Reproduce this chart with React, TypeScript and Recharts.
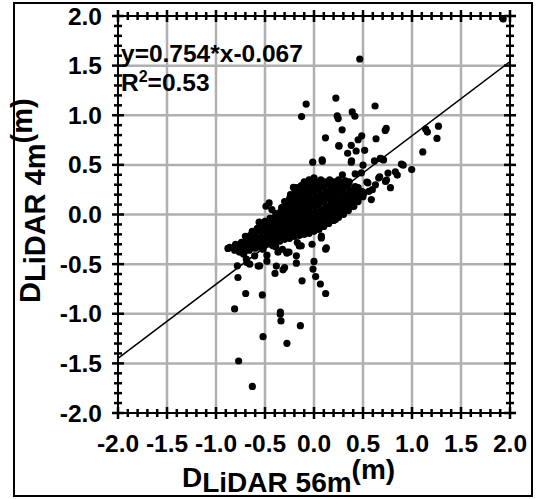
import React from 'react';
import { ScatterChart, Scatter, XAxis, YAxis, CartesianGrid, ReferenceLine } from 'recharts';

const W = 538;
const H = 499;
const PLOT_LEFT = 118;
const PLOT_RIGHT = 510;
const PLOT_TOP = 16;
const PLOT_BOTTOM = 413;
const FONT = '"Liberation Sans", Arial, Helvetica, sans-serif';
const MARGIN = { top: PLOT_TOP, right: W - PLOT_RIGHT, bottom: 0, left: 0 };

// axis ticks: labelled every 0.5, minor every 0.1
const allTicks = [
  -2, -1.9, -1.8, -1.7, -1.6, -1.5, -1.4, -1.3, -1.2, -1.1,
  -1, -0.9, -0.8, -0.7, -0.6, -0.5, -0.4, -0.3, -0.2, -0.1,
  0, 0.1, 0.2, 0.3, 0.4, 0.5, 0.6, 0.7, 0.8, 0.9,
  1, 1.1, 1.2, 1.3, 1.4, 1.5, 1.6, 1.7, 1.8, 1.9, 2,
];
const gridValues = [-1.5, -1, -0.5, 0, 0.5, 1, 1.5];

// regression line end points as drawn
const fitX = [-2, 2];
const fitY = [-1.45, 1.54];

// points above / right of the main cloud
const upperOutliers: [number, number][] = [
  [0.467, 1.567], [-0.08, 1.113], [-0.127, 0.987], [0.223, 1.173], [0.237, 0.993],
  [0.247, 0.967], [0.39, 1.033], [0.417, 0.99], [0.623, 1.093], [0.287, 0.853],
  [0.737, 0.867], [0.727, 0.847], [0.117, 0.773], [0.253, 0.693], [0.38, 0.697],
  [0.487, 0.793], [0.45, 0.753], [0.633, 0.763], [0.343, 0.617], [0.517, 0.647],
  [0.383, 0.54], [0.083, 0.55], [-0.013, 0.527], [0.5, 0.497], [0.617, 0.54],
  [0.677, 0.567], [0.893, 0.507], [1.14, 0.86], [1.157, 0.83], [1.27, 0.89],
  [1.255, 0.767], [1.11, 0.63], [0.69, 0.56], [0.71, 0.55], [0.91, 0.497],
  [0.997, 0.453], [0.755, 0.417], [0.83, 0.43], [0.85, 0.397], [0.67, 0.38],
  [0.74, 0.347], [0.78, 0.27], [1.93, 1.97], [0.66, 0.367], [0.73, 0.333],
  [0.54, 0.327], [0.627, 0.3], [0.56, 0.233], [0.51, 0.217], [0.29, 0.4],
  [0.42, 0.41], [0.483, 0.419], [0.55, 0.319], [0.595, 0.25], [0.585, 0.15],
  [0.237, -0.017], [0.22, -0.05], [0.356, 0.067], [0.407, 0.083], [0.255, 0.688],
  [0.43, 0.64], [0.38, 0.527], [0.085, 0.537],
];

// points left of / below the main cloud
const lowerOutliers: [number, number][] = [
  [-0.458, 0.117], [-0.43, 0.05], [-0.49, 0.083], [-0.56, -0.077], [-0.21, 0.273],
  [-0.878, -0.342], [-0.81, -0.951], [-0.776, -0.635], [-0.782, -0.517], [-0.697, -0.796],
  [-0.527, -0.81], [-0.769, -1.476], [-0.629, -1.732], [-0.52, -1.231], [-0.344, -1.005],
  [-0.337, -1.072], [-0.276, -1.298], [-0.139, -1.12], [-0.122, -0.668], [-0.398, -0.594],
  [-0.316, -0.557], [-0.3, -0.534], [-0.18, -0.49], [-0.18, -0.416], [0, -0.473],
  [-0.01, -0.55], [0.017, -0.625], [0.065, -0.7], [0.119, -0.796], [0.075, -0.237],
  [0.119, -0.349], [-0.02, -0.3], [-0.13, -0.315], [-0.276, -0.389], [-0.255, -0.38],
  [-0.367, -0.38], [-0.418, -0.315], [-0.39, -0.325], [-0.554, -0.517], [-0.57, -0.52],
  [-0.48, -0.41], [-0.48, -0.47], [-0.684, -0.483], [-0.656, -0.5], [-0.724, -0.349],
  [-0.718, -0.4], [-0.69, -0.45], [-0.605, -0.416], [-0.622, -0.298], [-0.588, -0.264],
  [-0.52, -0.35], [-0.343, -0.983], [-0.384, -0.52], [-0.28, -0.379], [0.126, -0.336],
  [0.075, -0.218], [-0.17, -0.283], [-0.15, -0.317], [-0.322, -0.35], [-0.71, -0.367],
];

// dense central cloud, read column by column
const coreCloud: [number, number][] = [
  [-0.86, -0.33],
  [-0.81, -0.36], [-0.8, -0.3],
  [-0.76, -0.38], [-0.75, -0.33], [-0.74, -0.28],
  [-0.71, -0.37], [-0.7, -0.32], [-0.69, -0.27], [-0.7, -0.22],
  [-0.66, -0.36], [-0.65, -0.31], [-0.64, -0.26], [-0.65, -0.21], [-0.63, -0.17],
  [-0.6, -0.34], [-0.61, -0.29], [-0.59, -0.24], [-0.6, -0.19], [-0.58, -0.14],
  [-0.55, -0.33], [-0.56, -0.28], [-0.54, -0.23], [-0.55, -0.17], [-0.53, -0.12],
  [-0.5, -0.31], [-0.51, -0.26], [-0.49, -0.21], [-0.5, -0.16], [-0.48, -0.11], [-0.5, -0.07],
  [-0.45, -0.3], [-0.46, -0.25], [-0.44, -0.19], [-0.45, -0.14], [-0.43, -0.09], [-0.45, -0.04],
  [-0.4, -0.28], [-0.41, -0.23], [-0.39, -0.18], [-0.4, -0.13], [-0.38, -0.08], [-0.4, -0.03], [-0.39, 0.01],
  [-0.35, -0.27], [-0.36, -0.22], [-0.34, -0.17], [-0.35, -0.12], [-0.33, -0.07], [-0.35, -0.02], [-0.34, 0.03], [-0.33, 0.07],
  [-0.3, -0.25], [-0.31, -0.2], [-0.29, -0.15], [-0.3, -0.1], [-0.28, -0.05], [-0.3, 0], [-0.29, 0.05], [-0.28, 0.1], [-0.3, 0.13],
  [-0.25, -0.24], [-0.26, -0.19], [-0.24, -0.14], [-0.25, -0.09], [-0.23, -0.04], [-0.25, 0.01], [-0.24, 0.06], [-0.23, 0.11], [-0.25, 0.16], [-0.24, 0.2],
  [-0.2, -0.22], [-0.21, -0.17], [-0.19, -0.12], [-0.2, -0.07], [-0.18, -0.02], [-0.2, 0.03], [-0.19, 0.08], [-0.18, 0.13], [-0.2, 0.18], [-0.19, 0.23], [-0.18, 0.27],
  [-0.15, -0.21], [-0.16, -0.16], [-0.14, -0.11], [-0.15, -0.06], [-0.13, -0.01], [-0.15, 0.04], [-0.14, 0.09], [-0.13, 0.14], [-0.15, 0.19], [-0.14, 0.24], [-0.13, 0.29],
  [-0.1, -0.2], [-0.11, -0.15], [-0.09, -0.1], [-0.1, -0.05], [-0.08, 0], [-0.1, 0.05], [-0.09, 0.1], [-0.08, 0.15], [-0.1, 0.2], [-0.09, 0.25], [-0.08, 0.3], [-0.1, 0.33],
  [-0.05, -0.19], [-0.06, -0.14], [-0.04, -0.09], [-0.05, -0.04], [-0.03, 0.01], [-0.05, 0.06], [-0.04, 0.11], [-0.03, 0.16], [-0.05, 0.21], [-0.04, 0.26], [-0.03, 0.31], [-0.05, 0.35],
  [0, -0.17], [-0.01, -0.12], [0.01, -0.07], [0, -0.02], [0.02, 0.03], [0, 0.08], [0.01, 0.13], [0.02, 0.18], [0, 0.23], [0.01, 0.28], [0.02, 0.33], [0, 0.37],
  [0.05, -0.15], [0.04, -0.1], [0.06, -0.05], [0.05, 0], [0.07, 0.05], [0.05, 0.1], [0.06, 0.15], [0.07, 0.2], [0.05, 0.25], [0.06, 0.3], [0.07, 0.35],
  [0.1, -0.12], [0.09, -0.07], [0.11, -0.02], [0.1, 0.03], [0.12, 0.08], [0.1, 0.13], [0.11, 0.18], [0.12, 0.23], [0.1, 0.28], [0.11, 0.33],
  [0.15, -0.09], [0.14, -0.04], [0.16, 0.01], [0.15, 0.06], [0.17, 0.11], [0.15, 0.16], [0.16, 0.21], [0.17, 0.26], [0.15, 0.31], [0.16, 0.35],
  [0.2, -0.06], [0.19, -0.01], [0.21, 0.04], [0.2, 0.09], [0.22, 0.14], [0.2, 0.19], [0.21, 0.24], [0.22, 0.29], [0.2, 0.33],
  [0.25, -0.03], [0.24, 0.02], [0.26, 0.07], [0.25, 0.12], [0.27, 0.17], [0.25, 0.22], [0.26, 0.27], [0.27, 0.32], [0.25, 0.35],
  [0.3, 0], [0.29, 0.05], [0.31, 0.1], [0.3, 0.15], [0.32, 0.2], [0.3, 0.25], [0.31, 0.3], [0.32, 0.34],
  [0.35, 0.04], [0.34, 0.09], [0.36, 0.14], [0.35, 0.19], [0.37, 0.24], [0.35, 0.29], [0.36, 0.33],
  [0.4, 0.08], [0.39, 0.13], [0.41, 0.18], [0.4, 0.23], [0.42, 0.28],
  [0.45, 0.13], [0.44, 0.18], [0.46, 0.23], [0.45, 0.27],
  [0.5, 0.18], [0.49, 0.23],
];

const toPoints = (arr: [number, number][]) => arr.map(([x, y]) => ({ x, y }));
const fitLine = fitX.map((x, i) => ({ x, y: fitY[i] }));

const isMajor = (v: number) => Math.abs(v * 2 - Math.round(v * 2)) < 1e-6;

const Dot = (p: any) => <circle cx={p.cx} cy={p.cy} r={3.6} fill="#000" />;
const NoDot = () => <g />;

function BottomTick(props: any) {
  const { x, y, payload } = props;
  const v = payload.value;
  const major = isMajor(v);
  const len = major ? 6 : 4;
  return (
    <g>
      <rect x={x - 1.25} y={y - len} width={2.5} height={len * 2} fill="#000" />
      <rect x={x - 1.25} y={PLOT_TOP - len} width={2.5} height={len * 2} fill="#000" />
      {major && (
        <text x={x} y={y + 39} textAnchor="middle" fontFamily={FONT} fontWeight="bold" fontSize={24.5} fill="#000">
          {v.toFixed(1)}
        </text>
      )}
    </g>
  );
}

function LeftTick(props: any) {
  const { x, y, payload } = props;
  const v = payload.value;
  const major = isMajor(v);
  const len = major ? 6 : 4;
  return (
    <g>
      <rect x={x - len} y={y - 1.25} width={len * 2} height={2.5} fill="#000" />
      <rect x={PLOT_RIGHT - len} y={y - 1.25} width={len * 2} height={2.5} fill="#000" />
      {major && (
        <text x={x - 16} y={y + 8.5} textAnchor="end" fontFamily={FONT} fontWeight="bold" fontSize={24.5} fill="#000">
          {v.toFixed(1)}
        </text>
      )}
    </g>
  );
}

export default function App() {
  return (
    <div style={{ position: 'relative', width: W, height: H, background: '#fff' }}>
      <style>{'body{margin:0}'}</style>

      {/* frame, grid, ticks and fitted line */}
      <div style={{ position: 'absolute', left: 0, top: 0 }}>
        <ScatterChart width={W} height={H} margin={MARGIN}>
          <CartesianGrid stroke="#b0b0b0" strokeWidth={2.5} horizontalValues={gridValues} verticalValues={gridValues} />
          <ReferenceLine x={2} stroke="#000" strokeWidth={2} />
          <ReferenceLine y={2} stroke="#000" strokeWidth={2} />
          <XAxis type="number" dataKey="x" domain={[-2, 2]} ticks={allTicks} interval={0} height={H - PLOT_BOTTOM}
            tickSize={0} tickMargin={0} tickLine={false} axisLine={{ stroke: '#000', strokeWidth: 2 }} tick={<BottomTick />} />
          <YAxis type="number" dataKey="y" domain={[-2, 2]} ticks={allTicks} interval={0} width={PLOT_LEFT}
            tickSize={0} tickMargin={0} tickLine={false} axisLine={{ stroke: '#000', strokeWidth: 2 }} tick={<LeftTick />} />
          <Scatter data={fitLine} line={{ stroke: '#000', strokeWidth: 1.5 }} shape={NoDot} isAnimationActive={false} />
        </ScatterChart>
      </div>

      {/* the measured points, on the same scales */}
      <div style={{ position: 'absolute', left: 0, top: 0 }}>
        <ScatterChart width={W} height={H} margin={MARGIN}>
          <XAxis type="number" dataKey="x" domain={[-2, 2]} height={H - PLOT_BOTTOM} tick={false} tickLine={false} axisLine={false} />
          <YAxis type="number" dataKey="y" domain={[-2, 2]} width={PLOT_LEFT} tick={false} tickLine={false} axisLine={false} />
          <Scatter data={toPoints(coreCloud)} fill="#000" shape={Dot} isAnimationActive={false} />
          <Scatter data={toPoints(upperOutliers)} fill="#000" shape={Dot} isAnimationActive={false} />
          <Scatter data={toPoints(lowerOutliers)} fill="#000" shape={Dot} isAnimationActive={false} />
        </ScatterChart>
      </div>

      <svg width={W} height={H} style={{ position: 'absolute', left: 0, top: 0, pointerEvents: 'none' }}>
        <g fontFamily={FONT} fontWeight="bold" fill="#000">
          <text x={121} y={62} fontSize={24.5}>y=0.754*x-0.067</text>
          <text x={121} y={91} fontSize={24.5}>
            R<tspan fontSize={16} dy={-9}>2</tspan><tspan dy={9}>=0.53</tspan>
          </text>
          <text x={182} y={487} fontSize={28}>
            D<tspan dy={5}>LiDAR 56m</tspan><tspan dy={-13}>(m)</tspan>
          </text>
          <text transform="translate(40,303) rotate(-90)" fontSize={29}>
            D<tspan dy={5}>LiDAR 4m</tspan><tspan dy={-13}>(m)</tspan>
          </text>
        </g>
        <rect x={14} y={3} width={518} height={493} fill="none" stroke="#000" strokeWidth={2} />
      </svg>
    </div>
  );
}
